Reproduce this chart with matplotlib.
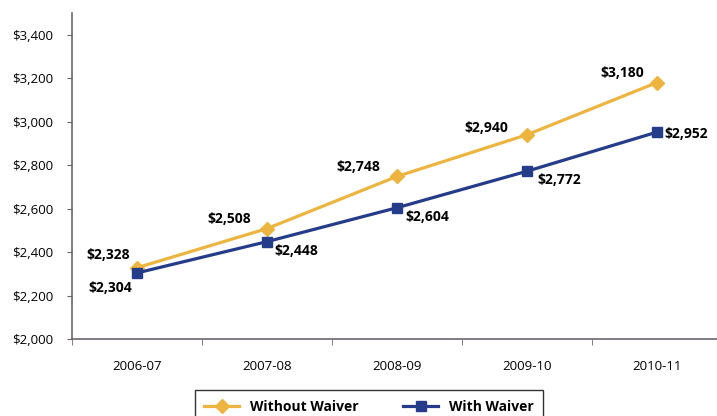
import matplotlib
matplotlib.use('Agg')
import matplotlib.pyplot as plt
import numpy as np

years = ['2006-07', '2007-08', '2008-09', '2009-10', '2010-11']
without_waiver = [2328, 2508, 2748, 2940, 3180]
with_waiver = [2304, 2448, 2604, 2772, 2952]

gold = '#EDB53F'
navy = '#253C8A'

plt.rcParams['font.family'] = ['Open Sans', 'DejaVu Sans']

fig = plt.figure(figsize=(7.17, 4.16), dpi=100)
ax = fig.add_axes([72 / 717, 77 / 416, 650 / 717, 326 / 416])

x = np.arange(len(years))
ax.plot(x, without_waiver, color=gold, lw=2.3, marker='D', ms=7, label='Without Waiver')
ax.plot(x, with_waiver, color=navy, lw=2.3, marker='s', ms=7, label='With Waiver')

# label offsets (points) for each point
off_wo = [(-21, 9), (-27, 7), (-28, 6.5), (-29, 5), (-25, 7)]
off_w = [(-19.5, -11), (21, -6.5), (22, -7), (23, -6.5), (21, -1.5)]
for i in range(len(years)):
    ax.annotate('${:,}'.format(without_waiver[i]), (x[i], without_waiver[i]),
                xytext=off_wo[i], textcoords='offset points', ha='center', va='center',
                fontsize=10, fontweight='bold')
    ax.annotate('${:,}'.format(with_waiver[i]), (x[i], with_waiver[i]),
                xytext=off_w[i], textcoords='offset points', ha='center', va='center',
                fontsize=10, fontweight='bold')

ax.set_xlim(-0.5, 4.5)
ax.set_ylim(2000, 3500)
ax.set_yticks(range(2000, 3401, 200))
ax.set_yticklabels(['${:,}'.format(v) for v in range(2000, 3401, 200)], fontsize=9.5)
ax.set_xticks(x)
ax.set_xticklabels(years, fontsize=9.5)
ax.set_xticks(np.arange(-0.5, 4.6, 1), minor=True)
ax.tick_params(axis='x', which='major', length=0, pad=15)
ax.tick_params(axis='x', which='minor', length=4, direction='out', color='#6b6570')
ax.tick_params(axis='y', length=3.5, direction='out', color='#6b6570', pad=10)
for s in ['top', 'right']:
    ax.spines[s].set_visible(False)
for s in ['left', 'bottom']:
    ax.spines[s].set_color('#6b6570')
    ax.spines[s].set_linewidth(1.2)

leg = fig.legend(loc='upper center', bbox_to_anchor=(369 / 717, 26 / 416), ncol=2,
                 frameon=True, fancybox=False, edgecolor='black', prop={'weight': 'bold', 'size': 10},
                 handlelength=2.5, columnspacing=3.2, borderpad=0.7, borderaxespad=0)
leg.get_frame().set_linewidth(1.0)

fig.savefig('out.png', dpi=100)
